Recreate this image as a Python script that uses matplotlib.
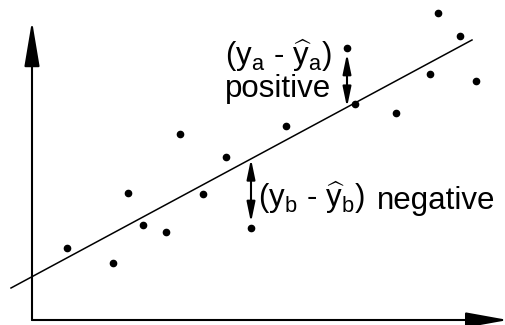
import matplotlib.pyplot as plt
from matplotlib.patches import FancyArrowPatch
import numpy as np

# scatter points (x, y measured from the axis origin)
pts_x = [35, 81, 96, 111, 134, 148, 171, 194, 219, 254, 315, 323, 364, 398, 406, 428, 444]
pts_y = [72, 57, 127, 95, 88, 186, 126, 163, 92, 194, 272, 216, 207, 246, 307, 284, 239]

# fitted line
fit_slope = 0.538
fit_intercept = 43.3
fit_x = [-21, 440]

# residuals to mark: point a (positive) and point b (negative)
res_idx = [10, 8]

plt.rcParams['font.family'] = ['Liberation Sans', 'DejaVu Sans']
plt.rcParams['mathtext.fontset'] = 'custom'
plt.rcParams['mathtext.rm'] = 'Liberation Sans'
plt.rcParams['mathtext.it'] = 'Liberation Sans'

fig = plt.figure(figsize=(5.05, 3.25), dpi=100)
ax = fig.add_axes([0, 0, 1, 1])
ax.set_xlim(-32, 473)
ax.set_ylim(-5, 320)
ax.axis('off')

# axes with arrows
ax.add_patch(FancyArrowPatch((0, 0), (0, 299), arrowstyle='-|>,head_length=28,head_width=4.7',
                             mutation_scale=1, lw=1.5, color='k', shrinkA=0, shrinkB=0))
ax.add_patch(FancyArrowPatch((0, 0), (476, 0), arrowstyle='-|>,head_length=26,head_width=4.7',
                             mutation_scale=1, lw=1.5, color='k', shrinkA=0, shrinkB=0))

fx = np.array(fit_x)
ax.plot(fx, fit_intercept + fit_slope * fx, color='k', lw=1.1)
ax.plot(pts_x, pts_y, 'o', color='k', ms=4.5)

for i in res_idx:
    x = pts_x[i]
    yl = fit_intercept + fit_slope * x
    ax.add_patch(FancyArrowPatch((x, yl), (x, pts_y[i]),
                                 arrowstyle='<|-|>,head_length=12,head_width=2.5',
                                 mutation_scale=1, lw=1.5, color='k',
                                 shrinkA=0, shrinkB=4))

fs = 22.5
ax.text(193, 255, r'$(\mathrm{y_a}$ - $\widehat{\mathrm{y}}_\mathrm{a})$', fontsize=fs, ha='left', va='baseline')
ax.text(193, 223, 'positive', fontsize=fs, ha='left', va='baseline')
ax.text(226, 113, r'$(\mathrm{y_b}$ - $\widehat{\mathrm{y}}_\mathrm{b})$', fontsize=fs, ha='left', va='baseline')
ax.text(345, 111, 'negative', fontsize=fs, ha='left', va='baseline')

fig.savefig('out.png', dpi=100)
